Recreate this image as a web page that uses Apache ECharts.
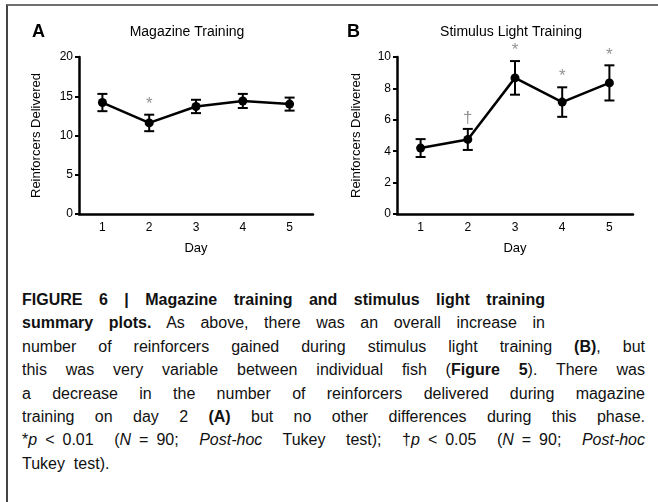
<!DOCTYPE html>
<html>
<head>
<meta charset="utf-8">
<script src="https://cdn.jsdelivr.net/npm/echarts@6/dist/echarts.min.js"></script>
<style>
  html, body { margin: 0; padding: 0; background: #fff; }
  #wrap { position: relative; width: 658px; height: 502px; overflow: hidden; }
  #frame { position: absolute; left: 6px; top: 4px; width: 700px; height: 600px;
           border-top: 2px solid #707070; border-left: 2px solid #444; }
  #chart { position: absolute; left: 0; top: 0; width: 658px; height: 270px; }
  #caption { position: absolute; left: 22px; top: 288px; width: 623px;
             font-family: "Liberation Sans", Arial, sans-serif; font-size: 16px;
             line-height: 23.4px; color: #111; }
  .ln { text-align: justify; text-align-last: justify; }
  .short { width: 523px; }
  .last { text-align: left; text-align-last: left; }
  .nb { display: inline-block; }
</style>
</head>
<body>
<div id="wrap">
  <div id="frame"></div>
  <div id="chart"></div>
  <div id="caption">
    <div class="ln short"><b>FIGURE 6 | Magazine training and stimulus light training</b></div>
    <div class="ln short"><b>summary plots.</b> As above, there was an overall increase in</div>
    <div class="ln">number of reinforcers gained during stimulus light training <b>(B)</b>, but</div>
    <div class="ln">this was very variable between individual fish (<b>Figure 5</b>). There was</div>
    <div class="ln">a decrease in the number of reinforcers delivered during magazine</div>
    <div class="ln">training on day 2 <b>(A)</b> but no other differences during this phase.</div>
    <div class="ln"><span class="nb">*<i>p</i>&ensp;&lt;&ensp;0.01</span> <span class="nb">(<i>N</i>&ensp;=&ensp;90;</span> <i>Post-hoc</i> Tukey test); <span class="nb">†<i>p</i>&ensp;&lt;&ensp;0.05</span> <span class="nb">(<i>N</i>&ensp;=&ensp;90;</span> <i>Post-hoc</i></div>
    <div class="ln last">Tukey&nbsp; test).</div>
  </div>
</div>
<script>
// values (mean and +/- error bar)
var days = ['1', '2', '3', '4', '5'];
var magMean = [14.2, 11.6, 13.7, 14.4, 14.0];
var magErr = [1.1, 1.05, 0.85, 0.9, 0.83];
var magMarks = ['', '*', '', '', ''];
var lightMean = [4.2, 4.75, 8.67, 7.13, 8.35];
var lightErr = [0.57, 0.67, 1.07, 0.94, 1.12];
var lightMarks = ['', '\u2020', '*', '*', '*'];
var magTicks = [0, 5, 10, 15, 20];
var lightTicks = [0, 2, 4, 6, 8, 10];

var font = '"Liberation Sans", Arial, sans-serif';

function errData(mean, err) {
  var out = [];
  for (var i = 0; i < mean.length; i++) {
    out.push([i, mean[i] - err[i], mean[i] + err[i]]);
  }
  return out;
}

function markData(mean, err, marks) {
  var out = [];
  for (var i = 0; i < mean.length; i++) {
    if (marks[i]) out.push({ value: [i, mean[i] + err[i]], mark: marks[i] });
  }
  return out;
}

function renderErr(params, api) {
  var x = api.value(0);
  var lo = api.coord([x, api.value(1)]);
  var hi = api.coord([x, api.value(2)]);
  var w = 5;
  var st = { stroke: '#000', lineWidth: 2 };
  return {
    type: 'group',
    children: [
      { type: 'line', shape: { x1: hi[0], y1: hi[1], x2: lo[0], y2: lo[1] }, style: st },
      { type: 'line', shape: { x1: hi[0] - w, y1: hi[1], x2: hi[0] + w, y2: hi[1] }, style: st },
      { type: 'line', shape: { x1: lo[0] - w, y1: lo[1], x2: lo[0] + w, y2: lo[1] }, style: st }
    ]
  };
}

function xAxisFor(idx) {
  return {
    type: 'category', gridIndex: idx, data: days, boundaryGap: true,
    name: 'Day', nameLocation: 'middle', nameGap: 28,
    nameTextStyle: { fontFamily: font, fontSize: 13, color: '#000' },
    axisLine: { lineStyle: { color: '#000', width: 2.5 } },
    axisTick: { alignWithLabel: true, length: 5, lineStyle: { width: 2 } },
    axisLabel: { fontFamily: font, fontSize: 12, color: '#000', margin: 8 },
    splitLine: { show: false }
  };
}

function yAxisFor(idx, ticks, gap) {
  return {
    type: 'value', gridIndex: idx,
    min: ticks[0], max: ticks[ticks.length - 1], interval: ticks[1] - ticks[0],
    name: 'Reinforcers Delivered', nameLocation: 'middle', nameGap: gap,
    nameTextStyle: { fontFamily: font, fontSize: 13, color: '#000' },
    axisLine: { show: true, lineStyle: { color: '#000', width: 2.5 } },
    axisTick: { show: true, length: 4, lineStyle: { width: 2 } },
    axisLabel: { fontFamily: font, fontSize: 12, color: '#000', margin: 6 },
    splitLine: { show: false }
  };
}

function panelSeries(idx, mean, err, marks) {
  return [
    {
      type: 'custom', xAxisIndex: idx, yAxisIndex: idx,
      renderItem: renderErr, data: errData(mean, err), z: 3
    },
    {
      type: 'line', xAxisIndex: idx, yAxisIndex: idx, data: mean,
      symbol: 'circle', symbolSize: 9, color: '#000',
      lineStyle: { color: '#000', width: 2.5 }, itemStyle: { color: '#000' }, z: 4
    },
    {
      type: 'scatter', xAxisIndex: idx, yAxisIndex: idx, symbolSize: 0,
      data: markData(mean, err, marks),
      label: {
        show: true, position: 'top', distance: 2,
        fontFamily: font, fontSize: 17, color: '#777',
        formatter: function (p) { return p.data.mark; }
      }
    }
  ];
}

var myChart = echarts.init(document.getElementById('chart'));
var option = {
  animation: false,
  backgroundColor: 'transparent',
  grid: [
    { left: 79, top: 57, width: 234, height: 157 },
    { left: 397, top: 57, width: 236, height: 157 }
  ],
  xAxis: [xAxisFor(0), xAxisFor(1)],
  yAxis: [yAxisFor(0, magTicks, 36), yAxisFor(1, lightTicks, 34)],
  graphic: [
    { type: 'text', x: 32, y: 32, style: { text: 'A', font: 'bold 18px ' + font, fill: '#000', textVerticalAlign: 'middle' } },
    { type: 'text', x: 187, y: 32, style: { text: 'Magazine Training', font: '14px ' + font, fill: '#000', textAlign: 'center', textVerticalAlign: 'middle' } },
    { type: 'text', x: 347, y: 32, style: { text: 'B', font: 'bold 18px ' + font, fill: '#000', textVerticalAlign: 'middle' } },
    { type: 'text', x: 511, y: 32, style: { text: 'Stimulus Light Training', font: '14px ' + font, fill: '#000', textAlign: 'center', textVerticalAlign: 'middle' } }
  ],
  series: panelSeries(0, magMean, magErr, magMarks).concat(panelSeries(1, lightMean, lightErr, lightMarks))
};
myChart.setOption(option);
</script>
</body>
</html>
